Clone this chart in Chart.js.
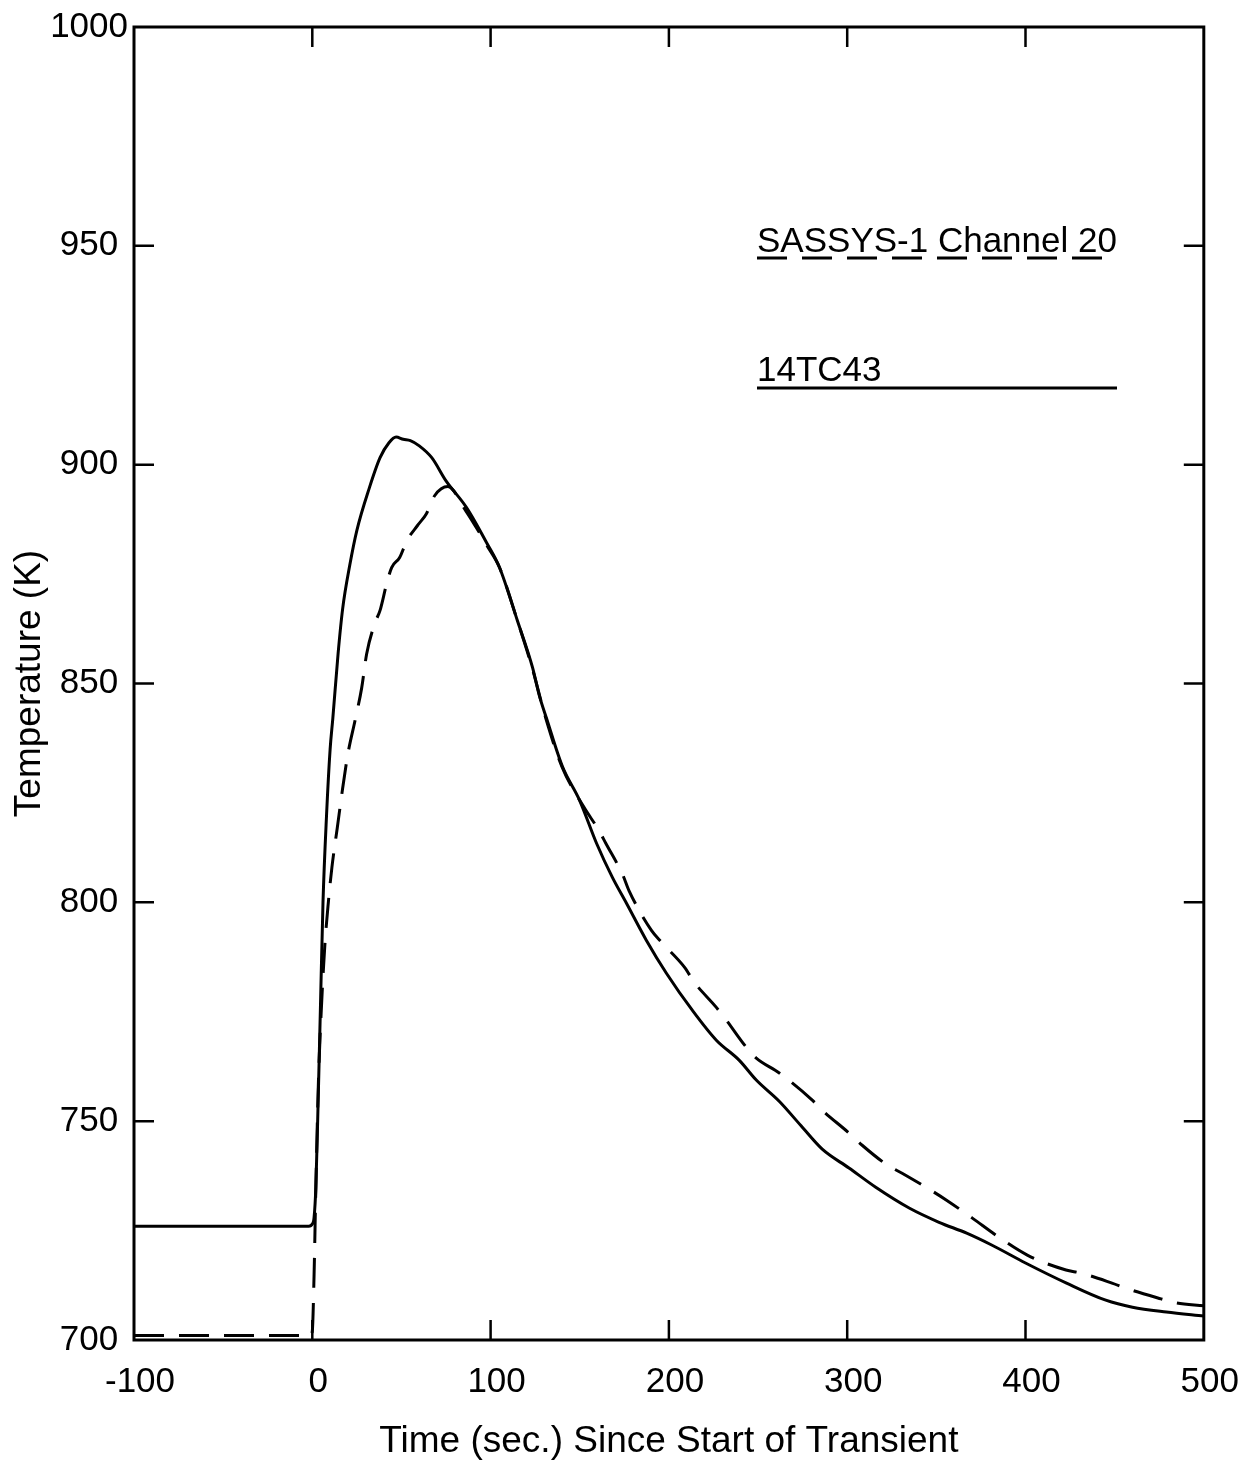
<!DOCTYPE html>
<html><head><meta charset="utf-8">
<script src="https://cdn.jsdelivr.net/npm/chart.js@4.4.1/dist/chart.umd.min.js"></script>
<style>html,body{margin:0;padding:0;background:#fff;}</style>
</head><body>
<canvas id="c" width="1254" height="1472" style="width:1254px;height:1472px;display:block"></canvas>
<script>
// ---- data ----
const xTickValues = [-100, 0, 100, 200, 300, 400, 500];
const yTickValues = [700, 750, 800, 850, 900, 950, 1000];
const seriesLabels = ['SASSYS-1 Channel 20', '14TC43'];
const xTitle = 'Time (sec.) Since Start of Transient';
const yTitle = 'Temperature (K)';

// SASSYS-1 Channel 20 (dashed)
const sassysTime = [-100, -1, 0, 1, 2, 3.5, 5, 7, 9, 11, 14, 17, 20, 24, 27.7, 30.5, 35, 38, 41.7, 44.5, 49, 53, 59, 64, 68.6, 76, 86, 98, 105, 115, 123, 131, 140, 152.4, 160.8, 164.6, 174.2, 177.6, 190.2, 195.8, 208.7, 214.3, 226.6, 232.2, 243.4, 249, 261.9, 280.4, 286, 301, 308.4, 322.4, 330.8, 347, 355.5, 370, 385, 401, 422.7, 431, 448.5, 458, 476, 484, 500];
const sassysTemp = [701, 701, 702, 715, 735, 760, 775, 790, 800, 808, 817, 826, 834, 841.6, 849, 856.8, 863.7, 866.7, 872.8, 876.5, 878.8, 882.6, 886.1, 888.8, 892.9, 895, 889.5, 881.5, 876.5, 864.4, 854, 842, 831, 821.7, 816.4, 813.5, 806.2, 802.7, 793.6, 790.9, 785.2, 781.7, 776, 773.1, 766.9, 764.4, 761, 754.8, 752.5, 747.3, 744.5, 740, 738.1, 734.2, 732, 727.9, 723.5, 719.4, 716, 715.3, 713, 711.6, 709.4, 708.5, 707.8];

// 14TC43 (solid)
const tcTime = [-100, -2, 0, 1, 2, 3, 4.5, 6, 8, 10, 11.5, 14.5, 17, 21, 25, 32, 38, 43, 47, 51, 55, 60, 67, 75, 86.5, 98, 105, 115, 123.5, 127.5, 131.4, 140.3, 149.9, 159.4, 168.3, 176.2, 187.4, 198.6, 213.2, 226.6, 239.5, 249, 262, 274, 286, 301, 316, 335, 351.5, 367, 381, 400, 423, 445, 460, 479, 500];
const tcTemp = [726, 726, 726.5, 728, 735, 750, 775, 800, 820, 835, 842, 857, 867, 877, 885, 894.7, 901.6, 905, 906.3, 905.8, 905.5, 904.3, 901.6, 896.3, 890.2, 882, 876.5, 864.4, 853.7, 847, 842, 831, 823.3, 813.5, 805.7, 799.8, 791.3, 783.8, 775.3, 768.5, 763.9, 759.4, 754.5, 749, 743.6, 739.3, 734.9, 730.1, 726.9, 724.4, 721.7, 717.6, 713, 709.1, 707.5, 706.4, 705.5];

const FONT = "'Liberation Sans', Arial, Helvetica, sans-serif";
const toPoints = (xs, ys) => xs.map((x, i) => ({x: x, y: ys[i]}));

const framePlugin = {
  id: 'frame',
  afterDraw(chart) {
    const ctx = chart.ctx;
    const a = chart.chartArea;
    const xs = chart.scales.x, ys = chart.scales.y;
    ctx.save();
    ctx.strokeStyle = '#000';
    ctx.lineWidth = 3;
    ctx.strokeRect(a.left, a.top, a.right - a.left, a.bottom - a.top);
    ctx.lineWidth = 2.5;
    const tl = 20;
    ctx.beginPath();
    xTickValues.forEach(v => {
      if (v === xs.min || v === xs.max) return;
      const px = xs.getPixelForValue(v);
      ctx.moveTo(px, a.bottom); ctx.lineTo(px, a.bottom - tl);
      ctx.moveTo(px, a.top); ctx.lineTo(px, a.top + tl);
    });
    yTickValues.forEach(v => {
      if (v === ys.min || v === ys.max) return;
      const py = ys.getPixelForValue(v);
      ctx.moveTo(a.left, py); ctx.lineTo(a.left + tl, py);
      ctx.moveTo(a.right, py); ctx.lineTo(a.right - tl, py);
    });
    ctx.stroke();

    // in-plot legend: label text with a line sample underneath
    const lx0 = 757, lx1 = 1117;
    const rows = [{base: 252, line: 258}, {base: 381, line: 388}];
    chart.data.datasets.forEach((ds, i) => {
      const r = rows[i];
      ctx.fillStyle = '#000';
      ctx.font = '35px ' + FONT;
      ctx.textAlign = 'left';
      ctx.textBaseline = 'alphabetic';
      ctx.fillText(ds.label, lx0, r.base);
      ctx.beginPath();
      ctx.lineWidth = 2.8;
      ctx.setLineDash(ds.borderDash || []);
      ctx.moveTo(lx0, r.line); ctx.lineTo(lx1, r.line);
      ctx.stroke();
      ctx.setLineDash([]);
    });
    ctx.restore();
  }
};

const bgPlugin = {
  id: 'bg',
  beforeDraw(chart) {
    const ctx = chart.ctx;
    ctx.save(); ctx.fillStyle = '#fff'; ctx.fillRect(0, 0, chart.width, chart.height); ctx.restore();
  }
};

new Chart(document.getElementById('c'), {
  type: 'line',
  data: {
    datasets: [
      {
        label: seriesLabels[0],
        data: toPoints(sassysTime, sassysTemp),
        borderColor: '#000', borderWidth: 3, borderDash: [30, 15],
        pointRadius: 0, fill: false, cubicInterpolationMode: 'monotone'
      },
      {
        label: seriesLabels[1],
        data: toPoints(tcTime, tcTemp),
        borderColor: '#000', borderWidth: 3,
        pointRadius: 0, fill: false, cubicInterpolationMode: 'monotone'
      }
    ]
  },
  options: {
    responsive: false,
    animation: false,
    devicePixelRatio: 1,
    layout: {padding: {top: 26, right: 49, left: 0, bottom: 0}},
    plugins: {legend: {display: false}, tooltip: {enabled: false}},
    scales: {
      x: {
        type: 'linear', min: -100, max: 500,
        afterBuildTicks: s => { s.ticks = xTickValues.map(v => ({value: v})); },
        afterFit: s => { s.height = 132; },
        grid: {display: false, drawTicks: false},
        border: {display: false},
        ticks: {font: {family: FONT, size: 35}, color: '#000', padding: 21, labelOffset: 6, autoSkip: false, maxRotation: 0, callback: v => String(v)},
        title: {display: true, text: xTitle, color: '#000', font: {family: FONT, size: 37}, padding: {top: 0, bottom: 8}}
      },
      y: {
        type: 'linear', min: 700, max: 1000,
        afterBuildTicks: s => { s.ticks = yTickValues.map(v => ({value: v})); },
        afterFit: s => { s.width = 134; },
        grid: {display: false, drawTicks: false},
        border: {display: false},
        ticks: {font: {family: FONT, size: 35}, color: '#000', padding: 6, crossAlign: 'center', autoSkip: false, callback: v => String(v)},
        title: {display: true, text: yTitle, color: '#000', font: {family: FONT, size: 37}, padding: {top: 8, bottom: 0}}
      }
    }
  },
  plugins: [bgPlugin, framePlugin]
});
</script>
</body></html>
